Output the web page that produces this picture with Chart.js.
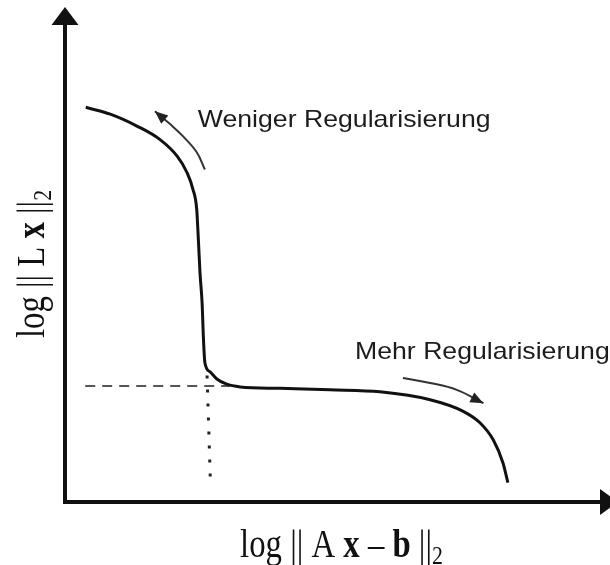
<!DOCTYPE html>
<html>
<head>
<meta charset="utf-8">
<script src="https://cdn.jsdelivr.net/npm/chart.js@4/dist/chart.umd.min.js"></script>
<style>
  html, body { margin: 0; padding: 0; background: #fff; }
  #wrap { width: 610px; height: 565px; }
</style>
</head>
<body>
<div id="wrap"><canvas id="c" width="610" height="565"></canvas></div>
<script>
// L-curve sketch: log residual norm (x) against log solution seminorm (y), arbitrary units 0..100
const curveX = [4.0, 8.5, 13.4, 17.6, 20.8, 22.6, 23.7, 24.4, 24.7, 25.0, 25.4, 25.6, 25.9, 26.8, 28.1, 29.8, 32.4, 39.7, 48.9, 58.1, 67.3, 73.3, 76.5, 78.9, 80.7, 81.6];
const curveY = [79.7, 78.3, 75.9, 73.2, 69.8, 66.5, 63.1, 59.0, 52.9, 46.2, 39.8, 33.7, 28.0, 26.2, 24.7, 23.7, 23.1, 22.8, 22.5, 22.1, 20.5, 18.2, 15.8, 12.4, 7.7, 3.7];

// Corner of the L: horizontal (dashed) and vertical (dotted) guide lines
const cornerHX = [3.9, 30.5];
const cornerHY = [23.3, 23.3];
const cornerVX = [26.3, 26.9];
const cornerVY = [25.4, 4.3];

// Direction arrows along the curve
const lessRegX = [25.9, 24.4, 21.9, 19.5, 16.7];
const lessRegY = [67.1, 70.6, 73.8, 76.3, 78.9];
const moreRegX = [62.3, 67.3, 72.2, 77.1];
const moreRegY = [24.9, 23.9, 22.5, 19.8];

// Annotation labels (left edge / baseline in data units)
const noteTexts = ['Weniger Regularisierung', 'Mehr Regularisierung'];
const noteX = [24.6, 53.5];
const noteY = [75.8, 28.7];

const pts = (xs, ys) => xs.map((x, i) => ({ x, y: ys[i] }));

const xTitle = [
  { t: 'log || A ' }, { t: 'x', bold: true }, { t: ' \u2013 ' }, { t: 'b', bold: true }, { t: ' ||' }, { t: '2', sub: true }
];
const yTitle = [
  { t: 'log || L ' }, { t: 'x', bold: true }, { t: ' ||' }, { t: '2', sub: true }
];

const SERIF = '"Liberation Serif", "Times New Roman", serif';
function partFont(p) {
  return (p.bold ? 'bold ' : '') + (p.sub ? '26px ' : '39px ') + SERIF;
}
function drawRich(ctx, parts, cx, cy, angle) {
  ctx.save();
  ctx.translate(cx, cy);
  ctx.rotate(angle);
  ctx.scale(0.84, 1);
  let total = 0;
  const widths = parts.map(p => { ctx.font = partFont(p); const w = ctx.measureText(p.t).width; total += w; return w; });
  let x = -total / 2;
  ctx.fillStyle = '#111';
  ctx.textBaseline = 'alphabetic';
  ctx.textAlign = 'left';
  parts.forEach((p, i) => {
    ctx.font = partFont(p);
    ctx.fillText(p.t, x, p.sub ? 7 : 0);
    x += widths[i];
  });
  ctx.restore();
}

function arrowHead(ctx, from, to, len, half) {
  const a = Math.atan2(to.y - from.y, to.x - from.x);
  ctx.beginPath();
  ctx.moveTo(to.x, to.y);
  ctx.lineTo(to.x - len * Math.cos(a) + half * Math.sin(a), to.y - len * Math.sin(a) - half * Math.cos(a));
  ctx.lineTo(to.x - len * Math.cos(a) - half * Math.sin(a), to.y - len * Math.sin(a) + half * Math.cos(a));
  ctx.closePath();
  ctx.fill();
}

const decorations = {
  id: 'decorations',
  afterDatasetsDraw(chart) {
    const { ctx, scales: { x, y } } = chart;
    const x0 = x.getPixelForValue(0) + 1, y0 = y.getPixelForValue(0) + 1;
    const yTop = y.getPixelForValue(100), xEnd = x.getPixelForValue(100);
    ctx.save();
    ctx.strokeStyle = '#111';
    ctx.fillStyle = '#111';
    ctx.lineWidth = 4;
    ctx.lineCap = 'butt';
    // axes
    ctx.beginPath();
    ctx.moveTo(x0, y0 + 2);
    ctx.lineTo(x0, yTop + 14);
    ctx.moveTo(x0 - 2, y0);
    ctx.lineTo(xEnd, y0);
    ctx.stroke();
    arrowHead(ctx, { x: x0, y: y0 }, { x: x0, y: yTop }, 18, 13.5);
    arrowHead(ctx, { x: x0, y: y0 }, { x: xEnd + 10, y: y0 }, 18, 13);

    // arrowheads on the direction arrows
    ctx.fillStyle = '#222';
    const heads = [[lessRegX, lessRegY], [moreRegX, moreRegY]];
    heads.forEach(([xs, ys]) => {
      const n = xs.length;
      const from = { x: x.getPixelForValue(xs[n - 2]), y: y.getPixelForValue(ys[n - 2]) };
      const to = { x: x.getPixelForValue(xs[n - 1]), y: y.getPixelForValue(ys[n - 1]) };
      arrowHead(ctx, from, to, 13, 5.5);
    });

    // annotation labels
    ctx.fillStyle = '#1c1c1c';
    ctx.font = '24px "Liberation Sans", Arial, sans-serif';
    ctx.textBaseline = 'alphabetic';
    noteTexts.forEach((t, i) => {
      ctx.save();
      ctx.translate(x.getPixelForValue(noteX[i]), y.getPixelForValue(noteY[i]));
      ctx.scale(1.11, 1);
      ctx.fillText(t, 0, 0);
      ctx.restore();
    });
    ctx.restore();

    // axis titles
    drawRich(ctx, xTitle, 341.5, 557, 0);
    drawRich(ctx, yTitle, 44, 264, -Math.PI / 2);
  }
};

new Chart(document.getElementById('c'), {
  type: 'scatter',
  data: {
    datasets: [
      {
        label: 'L-Kurve',
        data: pts(curveX, curveY),
        showLine: true,
        borderColor: '#111',
        borderWidth: 3,
        pointRadius: 0,
        cubicInterpolationMode: 'monotone'
      },
      {
        label: 'Ecke horizontal',
        data: pts(cornerHX, cornerHY),
        showLine: true,
        borderColor: '#555',
        borderWidth: 2,
        borderDash: [10, 7],
        pointRadius: 0
      },
      {
        label: 'Ecke vertikal',
        data: pts(cornerVX, cornerVY),
        showLine: true,
        borderColor: '#222',
        borderWidth: 3,
        borderDash: [3, 11],
        pointRadius: 0
      },
      {
        label: 'Weniger Regularisierung',
        data: pts(lessRegX, lessRegY),
        showLine: true,
        borderColor: '#333',
        borderWidth: 2,
        tension: 0.4,
        pointRadius: 0
      },
      {
        label: 'Mehr Regularisierung',
        data: pts(moreRegX, moreRegY),
        showLine: true,
        borderColor: '#333',
        borderWidth: 2,
        tension: 0.4,
        pointRadius: 0
      }
    ]
  },
  options: {
    responsive: false,
    animation: false,
    layout: { padding: { left: 64, top: 7, right: 2, bottom: 64 } },
    scales: {
      x: { type: 'linear', min: 0, max: 100, display: false },
      y: { type: 'linear', min: 0, max: 100, display: false }
    },
    plugins: {
      legend: { display: false },
      tooltip: { enabled: false }
    }
  },
  plugins: [decorations]
});
</script>
</body>
</html>
